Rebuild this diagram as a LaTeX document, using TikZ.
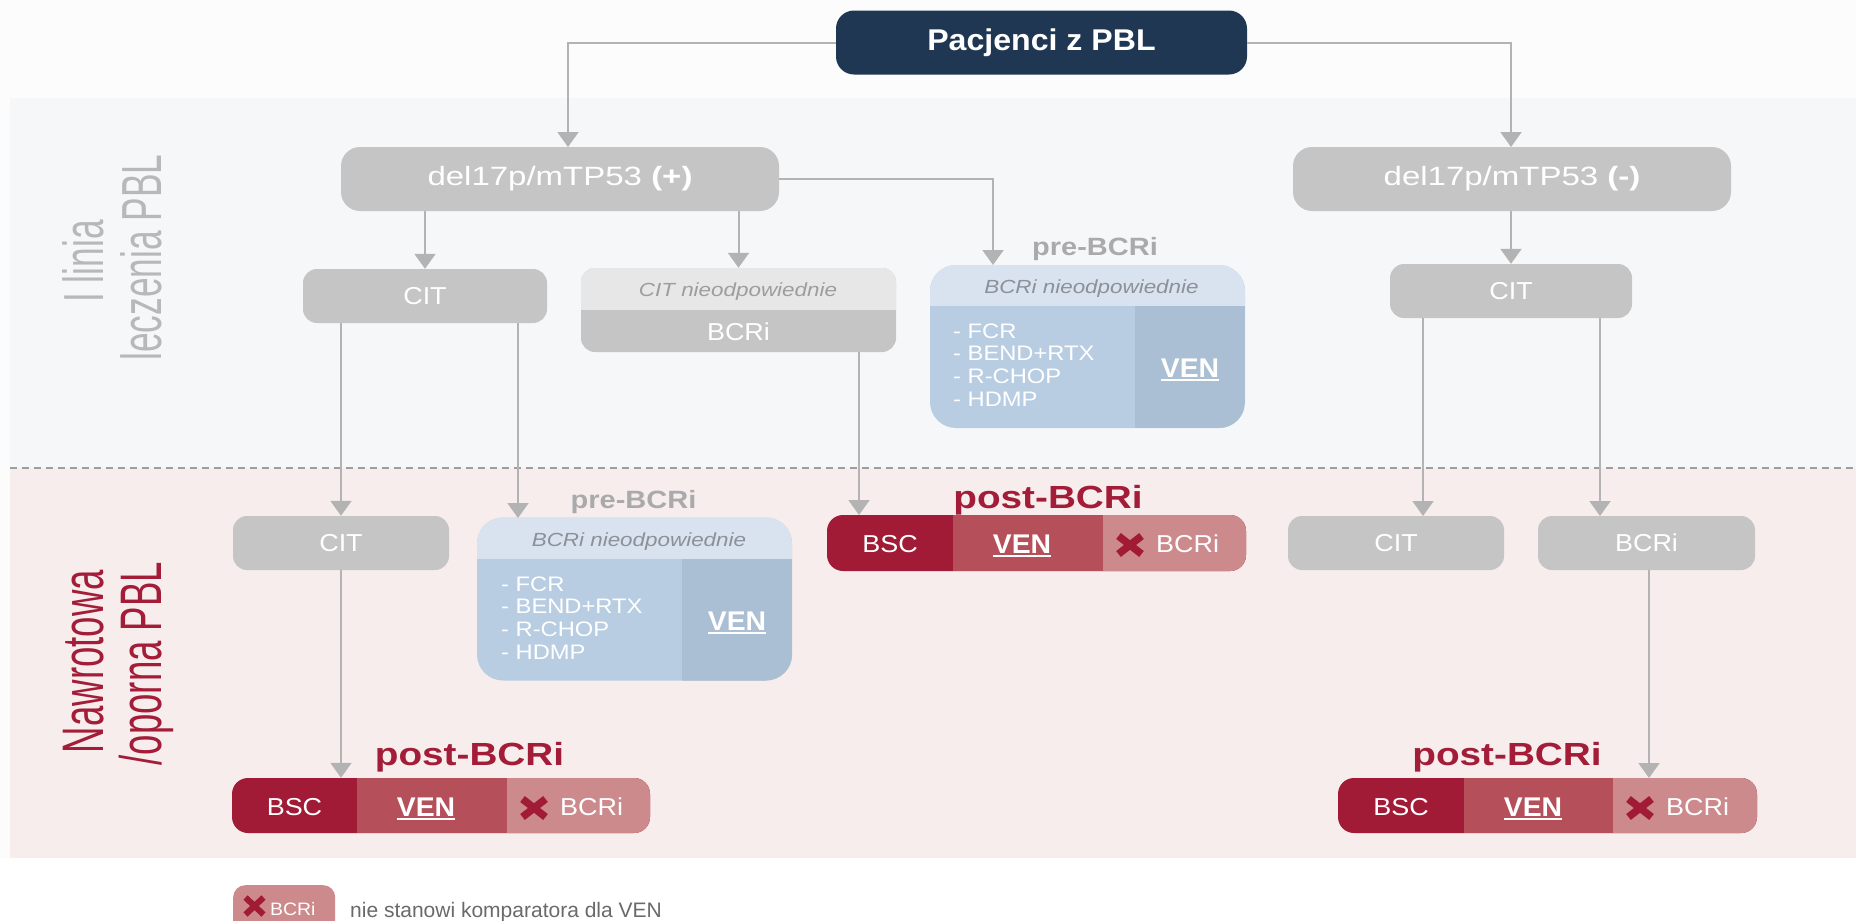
\documentclass[tikz,border=0pt]{standalone}
\usepackage{fontspec}
\setmainfont{Liberation Sans}
\usepackage{graphicx}
\usetikzlibrary{arrows.meta,calc}
\definecolor{navy}{HTML}{1F3753}
\definecolor{boxgray}{HTML}{C5C5C5}
\definecolor{citlight}{HTML}{E7E7E7}
\definecolor{citnie}{HTML}{9D9D9D}
\definecolor{bluetop}{HTML}{D9E3EF}
\definecolor{bluemid}{HTML}{B8CCE2}
\definecolor{bluedark}{HTML}{AABED4}
\definecolor{bluetext}{HTML}{8C9098}
\definecolor{bsc}{HTML}{A11A36}
\definecolor{ven}{HTML}{B5505B}
\definecolor{bcrl}{HTML}{CC8A8D}
\definecolor{redtxt}{HTML}{A31C38}
\definecolor{lgray}{HTML}{B3B3B3}
\definecolor{dashcol}{HTML}{9E9E9E}
\definecolor{prelbl}{HTML}{AAAAAA}
\definecolor{sidegray}{HTML}{B8B8B8}
\definecolor{topbg}{HTML}{FCFCFC}
\definecolor{bandone}{HTML}{F6F7F9}
\definecolor{bandtwo}{HTML}{F7EDED}
\definecolor{legtext}{HTML}{6A6A6A}
\newcommand\sx[2]{\scalebox{#1}[1]{#2}}
\newcommand\fs[1]{\fontsize{#1}{#1}\selectfont}
\newcommand\venul[1]{\setbox0\hbox{#1}\rlap{\rule[-4pt]{\wd0}{2pt}}\box0}
\begin{document}
\begin{tikzpicture}[x=1pt,y=-1pt,
  conn/.style={draw=lgray, line width=2pt, -{Triangle[width=21pt,length=15pt]}},
  gbox/.style={fill=boxgray, rounded corners=14pt, inner sep=0pt, text=white, font=\fs{24.5}},
  txt/.style={inner sep=0pt},
  prebox/.style={fill=bluemid, rounded corners=26pt, minimum width=315pt, minimum height=163pt, inner sep=0pt,
    path picture={
      \fill[bluetop, sharp corners] (path picture bounding box.north west) rectangle ([yshift=-41pt]path picture bounding box.north east);
      \fill[bluedark, sharp corners] ([xshift=-110pt,yshift=-41pt]path picture bounding box.north east) rectangle (path picture bounding box.south east);}},
  prehead/.style={txt, anchor=base, font=\fs{19}\itshape, text=bluetext},
  prelist/.style={txt, anchor=base west, font=\fontsize{21}{22.7}\selectfont, text=white},
  venb/.style={txt, anchor=base, font=\fs{27}\bfseries, text=white},
  prelab/.style={txt, anchor=base, font=\fs{25}\bfseries, text=prelbl},
  postlab/.style={txt, anchor=base, font=\fs{32}\bfseries, text=redtxt},
  bartxt/.style={txt, anchor=base, font=\fs{24.5}, text=white},
  barbox/.style={fill=bsc, rounded corners=16pt, minimum height=56pt, inner sep=0pt,
    path picture={
      \fill[ven, sharp corners] ([xshift=#1]path picture bounding box.south west) rectangle (path picture bounding box.north east);}},
  xm/.style={draw=bsc, line width=7.5pt},
  side/.style={txt, rotate=90, anchor=base}
]
\useasboundingbox (0,0) rectangle (1856,921);
\begin{scope}
\clip (0,0) rectangle (1856,921);
\fill[white] (0,0) rectangle (1856,921);
\fill[topbg] (0,0) rectangle (1856,858);
\fill[bandone] (10,98) rectangle (1856,468);
\fill[bandtwo] (10,468) rectangle (1856,858);
\draw[dashcol, line width=1.3pt, dash pattern=on 7pt off 5pt] (10,468) -- (1856,468);
% legend
\node[fill=bcrl, rounded corners=12pt, minimum width=102pt, minimum height=50pt, inner sep=0pt, anchor=north west] (leg) at (233,885) {};
\draw[draw=bsc, line width=6pt] (245.5,897.5) -- (263.5,914.5) (245.5,914.5) -- (263.5,897.5);
\node[txt, anchor=base west, font=\fs{18}, text=white] (legb) at (270,915) {\sx{1.08}{BCRi}};
\node[txt, anchor=base west, font=\fs{21}, text=legtext] (legt) at (350,917) {\sx{1.0}{nie stanowi komparatora dla VEN}};
\end{scope}

% side labels
\node[side, font=\fs{35.3}, text=sidegray] (sa) at (103,261.5) {\scalebox{1}[1.6]{I linia}};
\node[side, font=\fs{35.3}, text=sidegray] (sb) at (161,257.5) {\scalebox{1}[1.6]{leczenia PBL}};
\node[side, font=\fs{36.6}, text=redtxt] (sc) at (103,661.5) {\scalebox{1}[1.6]{Nawrotowa}};
\node[side, font=\fs{36.6}, text=redtxt] (sd) at (161,663.5) {\scalebox{1}[1.6]{/oporna PBL}};

% top
\node[fill=navy, rounded corners=18pt, minimum width=411pt, minimum height=64pt, inner sep=0pt, text=white, font=\fs{30}\bfseries] (top) at (1041.5,42.5) {\sx{1.07}{Pacjenci z PBL}};

% first line
\node[gbox, rounded corners=19pt, minimum width=438pt, minimum height=64pt, font=\fs{26.5}] (delp) at (560,179) {\sx{1.245}{del17p/mTP53 \textbf{(+)}}};
\node[gbox, rounded corners=19pt, minimum width=438pt, minimum height=64pt, font=\fs{26.5}] (delm) at (1512,179) {\sx{1.245}{del17p/mTP53 \textbf{(-)}}};
\node[gbox, minimum width=244pt, minimum height=54pt] (cit1) at (425,296) {\sx{1.1}{CIT}};
\node[gbox, minimum width=315pt, minimum height=84pt,
  path picture={\fill[citlight, sharp corners] (path picture bounding box.north west) rectangle ([yshift=-42pt]path picture bounding box.north east);}] (bcri1) at (738.5,310) {};
\node[txt, anchor=base, font=\fs{19}\itshape, text=citnie] (bcri1a) at (738,296) {\sx{1.18}{CIT nieodpowiednie}};
\node[txt, anchor=base, font=\fs{24.5}, text=white] (bcri1b) at (738.5,340) {\sx{1.1}{BCRi}};
\node[prebox] (pre1) at (1087.5,346.5) {};
\node[prelab] (pre1t) at (1095,255) {\sx{1.16}{pre-BCRi}};
\node[prehead] (pre1h) at (1091.5,293) {\sx{1.18}{BCRi nieodpowiednie}};
\node[prelist] (pre1l) at (953,338) {\sx{1.13}{\begin{tabular}[t]{@{}l@{}}- FCR\\- BEND+RTX\\- R-CHOP\\- HDMP\end{tabular}}};
\node[venb] (pre1v) at (1190,377) {\sx{1.05}{\venul{VEN}}};
\node[gbox, minimum width=242pt, minimum height=54pt] (cit2) at (1511,291) {\sx{1.1}{CIT}};

% second line
\node[gbox, minimum width=216pt, minimum height=54pt] (citn) at (341,543) {\sx{1.1}{CIT}};
\node[prebox] (pre2) at (634.5,599) {};
\node[prelab] (pre2t) at (633.5,508) {\sx{1.16}{pre-BCRi}};
\node[prehead] (pre2h) at (639,546) {\sx{1.18}{BCRi nieodpowiednie}};
\node[prelist] (pre2l) at (501,591) {\sx{1.13}{\begin{tabular}[t]{@{}l@{}}- FCR\\- BEND+RTX\\- R-CHOP\\- HDMP\end{tabular}}};
\node[venb] (pre2v) at (737,630) {\sx{1.05}{\venul{VEN}}};

% bar 1
\node[barbox=126pt, minimum width=419pt] (bar1) at (1036.5,543) {};
\fill[bcrl] (1103,515) -- (1230,515) arc[start angle=90,end angle=0,radius=16pt] -- (1246,555) arc[start angle=0,end angle=-90,radius=16pt] -- (1103,571) -- cycle;
\node[postlab] (bar1t) at (1048,508) {\sx{1.21}{post-BCRi}};
\node[bartxt] (bar1a) at (890,552) {\sx{1.1}{BSC}};
\node[venb] (bar1b) at (1022,553) {\sx{1.05}{\venul{VEN}}};
\draw[xm] (1118.5,536) -- (1141.5,554) (1118.5,554) -- (1141.5,536);
\node[bartxt, anchor=base west] (bar1c) at (1156,552) {\sx{1.1}{BCRi}};

\node[gbox, minimum width=216pt, minimum height=54pt] (cit3) at (1396,543) {\sx{1.1}{CIT}};
\node[gbox, minimum width=217pt, minimum height=54pt] (bcri3) at (1646.5,543) {\sx{1.1}{BCRi}};

% bar 2
\node[barbox=125pt, minimum width=418pt, minimum height=55pt] (bar2) at (441,805.5) {};
\fill[bcrl] (507,778) -- (634,778) arc[start angle=90,end angle=0,radius=16pt] -- (650,817) arc[start angle=0,end angle=-90,radius=16pt] -- (507,833) -- cycle;
\node[postlab] (bar2t) at (469.5,765) {\sx{1.21}{post-BCRi}};
\node[bartxt] (bar2a) at (294.5,815) {\sx{1.1}{BSC}};
\node[venb] (bar2b) at (426,816) {\sx{1.05}{\venul{VEN}}};
\draw[xm] (522.5,799) -- (545.5,817) (522.5,817) -- (545.5,799);
\node[bartxt, anchor=base west] (bar2c) at (560,815) {\sx{1.1}{BCRi}};

% bar 3
\node[barbox=126pt, minimum width=419pt, minimum height=55pt] (bar3) at (1547.5,805.5) {};
\fill[bcrl] (1613,778) -- (1741,778) arc[start angle=90,end angle=0,radius=16pt] -- (1757,817) arc[start angle=0,end angle=-90,radius=16pt] -- (1613,833) -- cycle;
\node[postlab] (bar3t) at (1507,765) {\sx{1.21}{post-BCRi}};
\node[bartxt] (bar3a) at (1401,815) {\sx{1.1}{BSC}};
\node[venb] (bar3b) at (1533,816) {\sx{1.05}{\venul{VEN}}};
\draw[xm] (1628.5,799) -- (1651.5,817) (1628.5,817) -- (1651.5,799);
\node[bartxt, anchor=base west] (bar3c) at (1666,815) {\sx{1.1}{BCRi}};

% connectors
\coordinate (t0) at (568,147);
\coordinate (t1) at (1511,147);
\coordinate (t2) at (518,518);
\coordinate (t3) at (993,265);
\coordinate (t4) at (1423,516);
\coordinate (t5) at (1600,516);
\coordinate (t6) at (859,515);
\coordinate (t8) at (1649,778);
\draw[conn] (top.west) -| (t0);
\draw[conn] (top.east) -| (t1);
\draw[conn] (delp.south -| cit1.north) -- (cit1.north);
\draw[conn] (delp.south -| bcri1.north) -- (bcri1.north);
\draw[conn] (delp.east) -| (t3);
\draw[conn] (delm.south -| cit2.north) -- (cit2.north);
\draw[conn] (cit1.south -| citn.north) -- (citn.north);
\draw[conn] (cit1.south -| t2) -- (t2);
\draw[conn] (bcri1.south -| t6) -- (t6);
\draw[conn] (cit2.south -| t4) -- (t4);
\draw[conn] (cit2.south -| t5) -- (t5);
\draw[conn] (citn.south) -- (bar2.north -| citn.south);
\draw[conn] (bcri3.south -| t8) -- (t8);
\end{tikzpicture}
\end{document}
